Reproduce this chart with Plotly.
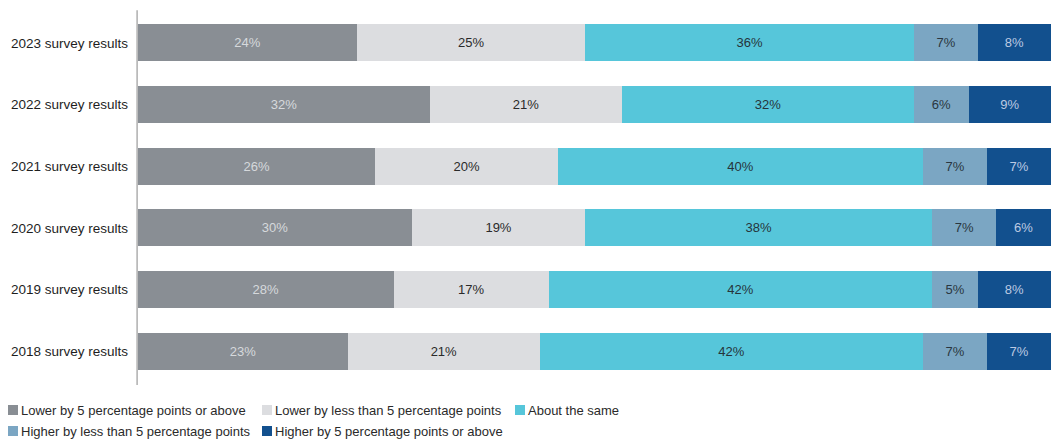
import plotly.graph_objects as go

# Survey years (top to bottom) and response shares in percent
years = ["2023 survey results", "2022 survey results", "2021 survey results",
         "2020 survey results", "2019 survey results", "2018 survey results"]

series_names = [
    "Lower by 5 percentage points or above",
    "Lower by less than 5 percentage points",
    "About the same",
    "Higher by less than 5 percentage points",
    "Higher by 5 percentage points or above",
]

lower_5_plus = [24, 32, 26, 30, 28, 23]
lower_under_5 = [25, 21, 20, 19, 17, 21]
about_same = [36, 32, 40, 38, 42, 42]
higher_under_5 = [7, 6, 7, 7, 5, 7]
higher_5_plus = [8, 9, 7, 6, 8, 7]

series_values = [lower_5_plus, lower_under_5, about_same, higher_under_5, higher_5_plus]

bar_colors = ["#898e94", "#dcdde0", "#56c6da", "#7ba6c3", "#12508e"]
text_colors = ["#d6d9dc", "#2a2a2a", "#26343a", "#2a3640", "#bcc9e2"]

FONT = "Liberation Sans, Arial, sans-serif"
W, H = 1063, 439
L, R, T, B = 138, 12, 12, 57

fig = go.Figure()
for name, vals, col, tcol in zip(series_names, series_values, bar_colors, text_colors):
    fig.add_trace(go.Bar(
        y=years, x=vals, name=name, orientation="h",
        marker=dict(color=col, line=dict(width=0)),
        text=[f"{v}%" for v in vals], textposition="inside",
        insidetextanchor="middle",
        textfont=dict(color=tcol, size=13, family=FONT),
        showlegend=False, hoverinfo="x+y",
    ))

# Vertical axis line at the left of the bars
fig.add_shape(type="line", xref="paper", yref="paper", x0=-0.001, x1=-0.001,
              y0=-0.008, y1=1.005, line=dict(color="#9a9a9a", width=1.2))

# Custom legend: small squares followed by labels, in two rows
pw = W - L - R
ph = H - T - B


def px_to_paper_x(px):
    return (px - L) / pw


def px_to_paper_y(py):
    return (H - B - py) / ph


legend_pos = [(8, 410), (262, 410), (515, 410), (8, 431), (262, 431)]
for (lx, ly), name, col in zip(legend_pos, series_names, bar_colors):
    fig.add_shape(type="rect", xref="paper", yref="paper",
                  x0=px_to_paper_x(lx), x1=px_to_paper_x(lx + 10),
                  y0=px_to_paper_y(ly + 5), y1=px_to_paper_y(ly - 5),
                  fillcolor=col, line=dict(width=0))
    fig.add_annotation(xref="paper", yref="paper",
                       x=px_to_paper_x(lx + 11), y=px_to_paper_y(ly),
                       text=name, showarrow=False, xanchor="left", yanchor="middle",
                       font=dict(size=13, color="#2a2a2a", family=FONT))

fig.update_layout(
    width=W, height=H,
    barmode="stack", bargap=0.4,
    margin=dict(l=L, r=R, t=T, b=B, pad=0),
    paper_bgcolor="white", plot_bgcolor="white",
    font=dict(family=FONT, size=13, color="#1e1e1e"),
    xaxis=dict(range=[0, 100], visible=False, fixedrange=True),
    yaxis=dict(autorange="reversed", showgrid=False, showline=False, zeroline=False,
               ticks="", ticklabelstandoff=9, tickfont=dict(size=13.5, color="#1e1e1e")),
    uniformtext=dict(mode="show", minsize=10),
)

fig.write_html("out.html")
